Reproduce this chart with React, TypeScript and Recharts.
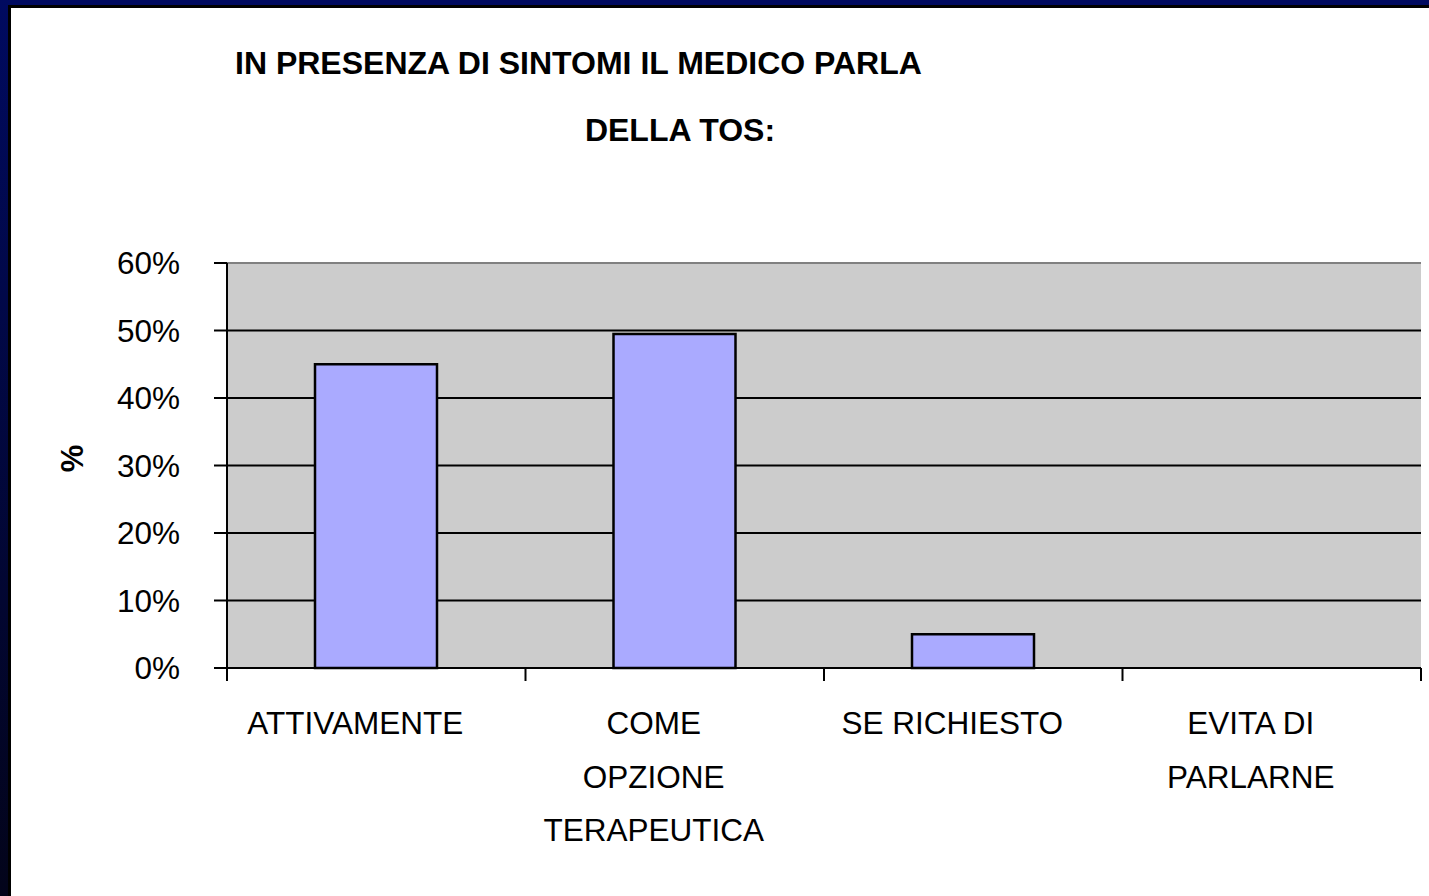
import React from 'react';
import { BarChart, Bar, XAxis, YAxis, CartesianGrid, ReferenceLine } from 'recharts';

// values
const categories = ['ATTIVAMENTE', 'COME\nOPZIONE\nTERAPEUTICA', 'SE RICHIESTO', 'EVITA DI\nPARLARNE'];
const shares = [0.45, 0.495, 0.05, 0];
const yTicks = [0, 0.1, 0.2, 0.3, 0.4, 0.5, 0.6];
const innerGridValues = [0.1, 0.2, 0.3, 0.4, 0.5];
const titleLines = ['IN PRESENZA DI SINTOMI IL MEDICO PARLA', 'DELLA TOS:'];
const yLabel = '%';

const data = categories.map((name, i) => ({ name, value: shares[i] }));

const W = 1429;
const H = 896;
const PLOT_LEFT = 227;
const PLOT_RIGHT = 8;
const PLOT_TOP = 263;
const X_AXIS_H = 228;
const FONT = "'Liberation Sans', Arial, Helvetica, sans-serif";

const CategoryTick = (props: any) => {
  const { x, y, payload, index, visibleTicksCount } = props;
  const band = (W - PLOT_LEFT - PLOT_RIGHT) / categories.length;
  const lines = String(payload.value).split('\n');
  const isLast = index === visibleTicksCount - 1;
  const tx = x - 21;
  return (
    <g>
      <line x1={x - band / 2} x2={x - band / 2} y1={y} y2={y + 13} stroke="#000" strokeWidth={2} />
      {isLast && <line x1={x + band / 2} x2={x + band / 2} y1={y} y2={y + 13} stroke="#000" strokeWidth={2} />}
      <text x={tx} y={y + 66} textAnchor="middle" fontSize={31.5} fontFamily={FONT} fill="#000">
        {lines.map((l, i) => (
          <tspan key={i} x={tx} dy={i === 0 ? 0 : 53.5}>
            {l}
          </tspan>
        ))}
      </text>
    </g>
  );
};

export default function App() {
  return (
    <div style={{ position: 'absolute', left: 0, top: 0, width: W, height: H, background: '#000a60', overflow: 'hidden', fontFamily: FONT }}>
      <div style={{ position: 'absolute', left: 0, top: 0, width: 8, height: H, background: 'linear-gradient(#000a60, #03041a)' }} />
      <div
        style={{
          position: 'absolute',
          left: 8,
          top: 5,
          right: 0,
          bottom: 0,
          borderLeft: '3px solid #000',
          borderTop: '3px solid #000',
          background: '#fff',
        }}
      />
      <div style={{ position: 'absolute', left: 235, top: 47, fontSize: 32, lineHeight: '32px', fontWeight: 'bold', whiteSpace: 'nowrap', color: '#000' }}>
        {titleLines[0]}
      </div>
      <div style={{ position: 'absolute', left: 480, width: 400, top: 114, textAlign: 'center', fontSize: 32, lineHeight: '32px', fontWeight: 'bold', whiteSpace: 'nowrap', color: '#000' }}>
        {titleLines[1]}
      </div>
      <div
        style={{
          position: 'absolute',
          left: 52,
          top: 443,
          width: 40,
          height: 31,
          lineHeight: '31px',
          textAlign: 'center',
          fontSize: 31,
          fontWeight: 'bold',
          transform: 'rotate(-90deg)',
          color: '#000',
        }}
      >
        {yLabel}
      </div>
      <div style={{ position: 'absolute', left: 0, top: 0 }}>
        <BarChart width={W} height={H} data={data} margin={{ top: PLOT_TOP, right: PLOT_RIGHT, bottom: 0, left: 0 }}>
          <CartesianGrid fill="#cccccc" vertical={false} horizontalValues={innerGridValues} stroke="#000" strokeWidth={2} />
          <XAxis
            dataKey="name"
            height={X_AXIS_H}
            interval={0}
            tickSize={0}
            tickMargin={0}
            tickLine={false}
            axisLine={{ stroke: '#000', strokeWidth: 2 }}
            tick={(p: any) => <CategoryTick {...p} />}
          />
          <XAxis xAxisId="frame" type="number" domain={[0, categories.length]} hide />
          <YAxis
            domain={[0, 0.6]}
            ticks={yTicks}
            interval={0}
            width={PLOT_LEFT}
            tickSize={13}
            tickMargin={34}
            tickFormatter={(v: number) => `${Math.round(v * 100)}%`}
            axisLine={{ stroke: '#000', strokeWidth: 2 }}
            tickLine={{ stroke: '#000', strokeWidth: 2 }}
            tick={{ fill: '#000', fontSize: 31.5, fontFamily: FONT }}
          />
          <ReferenceLine y={0.6} stroke="#808080" strokeWidth={2} />
          <ReferenceLine x={categories.length} xAxisId="frame" stroke="#808080" strokeWidth={2} />
          <Bar dataKey="value" barSize={122} fill="#aaaaff" stroke="#000" strokeWidth={2.5} isAnimationActive={false} />
        </BarChart>
      </div>
    </div>
  );
}
